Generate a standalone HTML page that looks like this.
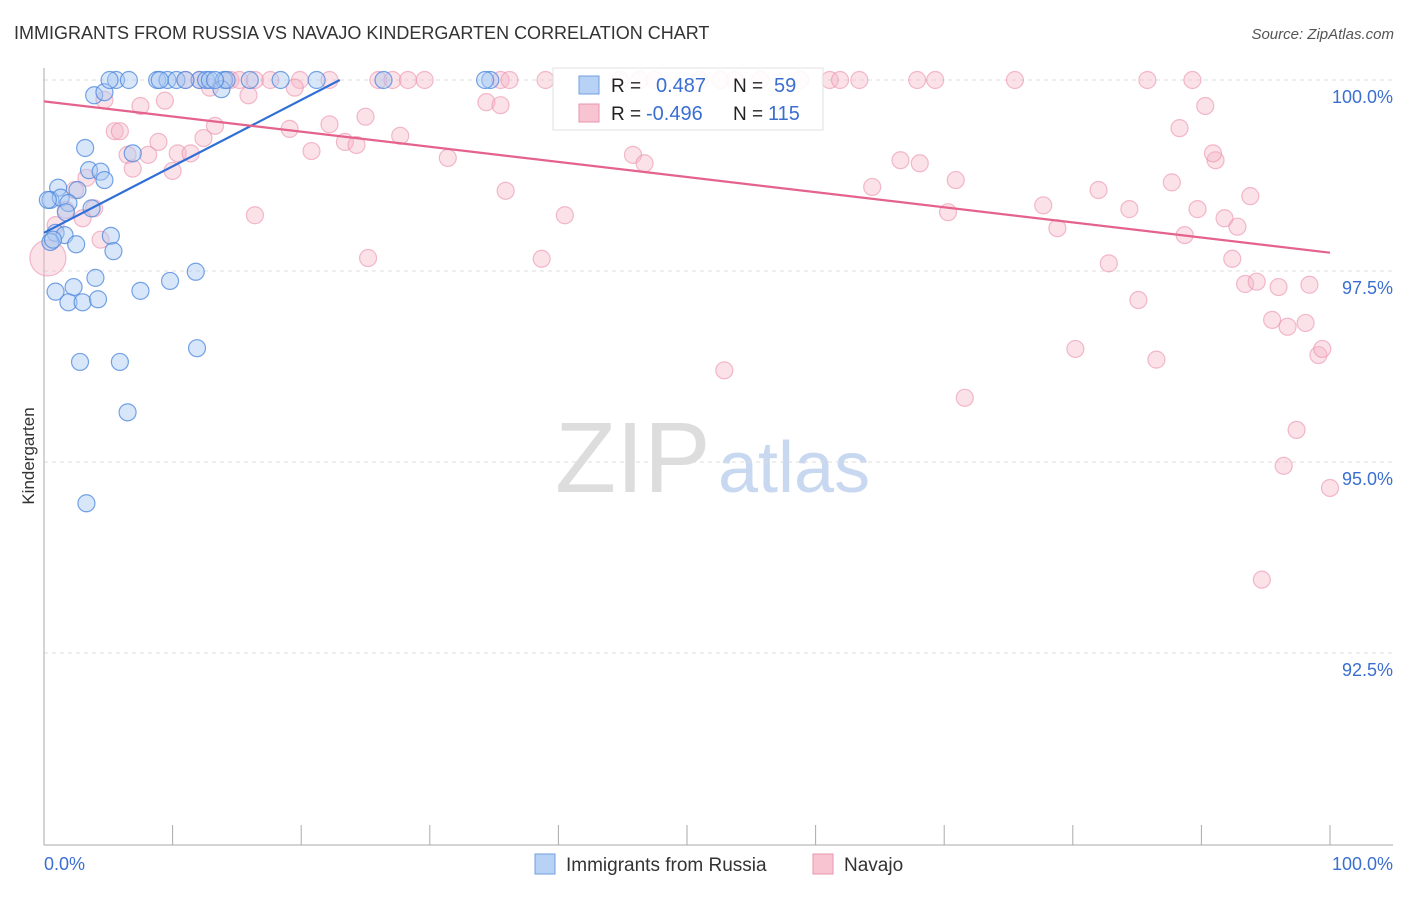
<!DOCTYPE html>
<html><head><meta charset="utf-8"><style>
body{margin:0;background:#fff;font-family:"Liberation Sans",sans-serif}
svg text{font-family:"Liberation Sans",sans-serif}
</style></head><body>
<svg id="chart" width="1406" height="892">
<text x="14" y="39" font-size="18" fill="#333">IMMIGRANTS FROM RUSSIA VS NAVAJO KINDERGARTEN CORRELATION CHART</text>
<text x="1394" y="39" font-size="15" fill="#555" font-style="italic" text-anchor="end">Source: ZipAtlas.com</text>
<text x="34" y="456" font-size="17" fill="#333" text-anchor="middle" transform="rotate(-90 34 456)">Kindergarten</text>
<text x="555" y="492" font-size="100" fill="#ddd" font-family="Liberation Serif">ZIP</text>
<text x="718" y="492" font-size="72" fill="#c8d8f0">atlas</text>
<g id="grid"></g><g id="axes"></g><g id="pts"></g><g id="trend"></g>
<g>
<rect x="553" y="68" width="270" height="62" fill="#fff" stroke="#ddd" opacity="0.9"/>
<rect x="579" y="76" width="20" height="18" fill="#b8d2f5" stroke="#6f9fe0"/>
<rect x="579" y="104" width="20" height="18" fill="#f8c4d2" stroke="#e895ad"/>
<text x="611" y="92" font-size="19" fill="#222">R = </text><text x="656" y="92" font-size="20" fill="#3a6fd0">0.487</text>
<text x="733" y="92" font-size="19" fill="#222">N = </text><text x="774" y="92" font-size="20" fill="#3a6fd0">59</text>
<text x="611" y="120" font-size="19" fill="#222">R = </text><text x="646" y="120" font-size="20" fill="#3a6fd0">-0.496</text>
<text x="733" y="120" font-size="19" fill="#222">N = </text><text x="768" y="120" font-size="20" fill="#3a6fd0">115</text>
</g>
<g>
<rect x="535" y="854" width="20" height="20" fill="#b8d2f5" stroke="#6f9fe0"/>
<text x="566" y="871" font-size="19" fill="#333">Immigrants from Russia</text>
<rect x="813" y="854" width="20" height="20" fill="#f8c4d2" stroke="#e895ad"/>
<text x="844" y="871" font-size="19" fill="#333">Navajo</text>
</g>
</svg>
<script>
const yTicks=[100,97.5,95,92.5];
const yTickLabels=["100.0%","97.5%","95.0%","92.5%"];
const xTickVals=[0,10,20,30,40,50,60,70,80,90,100];
const xEndLabels=["0.0%","100.0%"];
const blueX=[5.6,6.6,8.8,9.6,10.3,12.1,12.6,12.9,14.0,18.4,21.2,26.4,34.7,34.3,3.9,4.7,13.8,3.2,6.9,3.5,4.4,4.7,1.1,2.6,0.5,1.3,1.9,3.7,1.7,0.9,1.6,0.5,2.5,5.2,5.4,4.0,11.8,9.8,0.9,2.3,7.5,1.9,3.0,4.2,2.8,5.9,11.9,6.5,3.3,0.7,0.3,14.2,16.0,13.3,11.0,5.1,9.0];
const blueY=[100,100,100,100,100,100,100,100,100,100,100,100,100,100,99.80,99.84,99.88,99.11,99.04,98.82,98.80,98.69,98.59,98.56,98.43,98.46,98.39,98.32,98.27,98.00,97.97,97.88,97.85,97.96,97.76,97.41,97.49,97.37,97.23,97.29,97.24,97.09,97.09,97.13,96.31,96.31,96.49,95.65,94.46,97.91,98.43,100,100,100,100,100,100];
const pinkX=[11.0,12.1,14.5,15.2,16.4,17.6,19.9,22.2,26.0,27.1,28.3,29.6,35.5,36.2,39.0,46.3,52.6,61.1,61.9,63.4,67.9,69.3,75.5,85.8,89.3,44.8,47.5,51.0,53.7,55.7,58.8,4.7,7.5,9.4,15.9,19.5,12.9,34.4,35.5,5.5,5.9,8.9,13.3,12.4,22.2,25.0,19.1,20.8,23.4,24.3,27.7,6.5,8.1,10.4,11.4,31.4,45.8,46.7,66.6,68.1,70.9,64.4,77.7,82.0,87.7,93.8,91.1,90.9,90.3,88.3,3.3,2.4,10.0,6.9,1.7,3.0,3.9,4.4,0.9,16.4,25.2,35.9,38.7,40.5,70.3,78.8,84.4,89.7,88.7,91.8,92.8,92.4,82.8,85.1,93.4,94.3,96.0,98.4,95.5,96.7,98.1,80.2,86.5,99.1,99.4,52.9,71.6,97.4,96.4,100,94.7,0.3];
const pinkY=[100,100,100,100,100,100,100,100,100,100,100,100,100,100,100,100,100,100,100,100,100,100,100,100,100,100,100,100,100,100,100,99.74,99.66,99.73,99.80,99.90,99.90,99.71,99.67,99.33,99.33,99.19,99.40,99.24,99.42,99.52,99.36,99.07,99.19,99.15,99.27,99.02,99.02,99.04,99.04,98.98,99.02,98.91,98.95,98.91,98.69,98.60,98.36,98.56,98.66,98.48,98.95,99.04,99.66,99.37,98.72,98.56,98.81,98.84,98.30,98.19,98.32,97.91,98.10,98.23,97.67,98.55,97.66,98.23,98.27,98.06,98.31,98.31,97.97,98.19,98.08,97.66,97.60,97.12,97.33,97.36,97.29,97.32,96.86,96.77,96.82,96.48,96.34,96.40,96.48,96.20,95.84,95.42,94.95,94.66,93.46,97.67];
const blueTrend=[[0,98.0],[23,100]];
const pinkTrend=[[0,99.72],[100,97.74]];
const NS='http://www.w3.org/2000/svg';
const X0=44,X1=1330,Ytop=80,PX=76.4;
function xs(v){return X0+(X1-X0)*v/100;}
function ys(v){return Ytop+(100-v)*PX;}
function mk(tag,attrs,parent){const e=document.createElementNS(NS,tag);for(const k in attrs)e.setAttribute(k,attrs[k]);parent.appendChild(e);return e;}
const grid=document.getElementById('grid'),axes=document.getElementById('axes'),pts=document.getElementById('pts'),trend=document.getElementById('trend');
yTicks.forEach((t,i)=>{
  const l=mk('line',{x1:44,x2:1393,y1:ys(t),y2:ys(t),stroke:'#ddd','stroke-dasharray':'4,4'},grid);
  
  
  const tx=mk('text',{x:1393,y:ys(t)+23,'font-size':18,fill:'#3a6fd0','text-anchor':'end'},axes);
  tx.textContent=yTickLabels[i];
  
  
});
const ya=mk('line',{x1:44,x2:44,y1:68,y2:845,stroke:'#aaa'},axes);


const xa=mk('line',{x1:44,x2:1393,y1:845,y2:845,stroke:'#aaa'},axes);


xTickVals.forEach(v=>{
  const t=mk('line',{x1:xs(v),x2:xs(v),y1:825,y2:845,stroke:'#aaa'},axes);
  
  
});
[[0,'start',44],[1,'end',1393]].forEach(([i,a,x])=>{
  const tx=mk('text',{x:x,y:870,'font-size':18,fill:'#3a6fd0','text-anchor':a},axes);
  tx.textContent=xEndLabels[i];
  
  
});
pinkX.forEach((v,i)=>{
  const big=(i===pinkX.length-1);
  const c=mk('circle',{cx:xs(v),cy:ys(pinkY[i]),r:big?18:8.5,fill:'#f6b6c8','fill-opacity':0.4,stroke:'#eb8fab','stroke-opacity':0.6,'stroke-width':1.2},pts);
  
  
});
blueX.forEach((v,i)=>{
  const c=mk('circle',{cx:xs(v),cy:ys(blueY[i]),r:8.5,fill:'#a9c8f2','fill-opacity':0.45,stroke:'#4a86dc','stroke-opacity':0.75,'stroke-width':1.2},pts);
  
  
});
const bl=mk('line',{x1:xs(blueTrend[0][0]),y1:ys(blueTrend[0][1]),x2:xs(blueTrend[1][0]),y2:ys(blueTrend[1][1]),stroke:'#2f6fd6','stroke-width':2.2},trend);


const pl=mk('line',{x1:xs(pinkTrend[0][0]),y1:ys(pinkTrend[0][1]),x2:xs(pinkTrend[1][0]),y2:ys(pinkTrend[1][1]),stroke:'#e4628c','stroke-width':2.2},trend);


</script>
</body></html>
